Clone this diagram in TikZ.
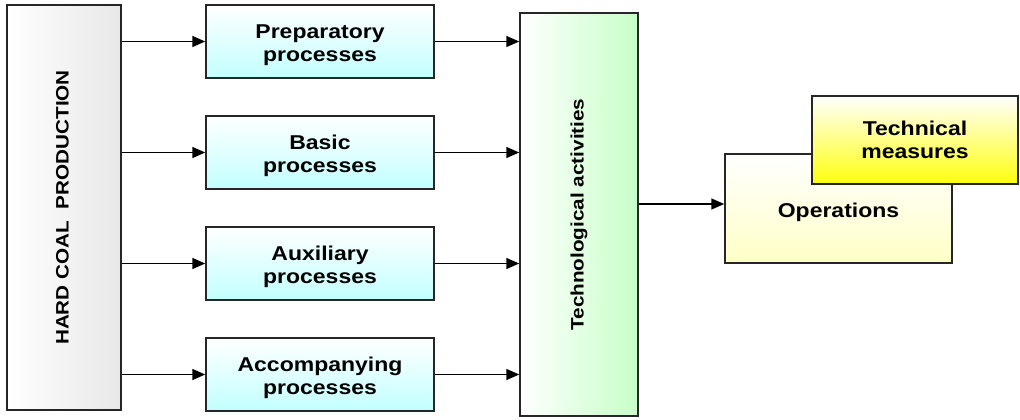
\documentclass[tikz,border=0pt]{standalone}
\usepackage{fontspec}
\setmainfont{Liberation Sans}[FakeStretch=1.15]
\usetikzlibrary{arrows.meta}
\newcommand{\dn}{\rule{0pt}{22pt}}
\begin{document}
\begin{tikzpicture}[x=1pt,y=-1pt,
  box/.style={draw=black!85, line width=1.5pt, inner sep=0pt, align=center,
    font=\bfseries\fontsize{20}{23}\selectfont},
  procbox/.style={box, minimum width=228pt, minimum height=73pt, top color=white, bottom color=cyan!24},
  arr/.style={line width=1.6pt, -{Triangle[length=13pt,width=11pt]}},
  rtext/.style={rotate=90, inner sep=0pt, font=\bfseries\fontsize{18}{22}\selectfont}
]
\useasboundingbox (0,0) rectangle (1020,420);
\node[box, minimum width=114pt, minimum height=405pt, left color=white, right color=black!9] (hc) at (64,207.5) {};
\node[rtext] (hct) at ([xshift=-1.5pt]hc.center) {HARD COAL\ \ PRODUCTION};
\node[procbox] (p1) at (320,41.5) {\dn Preparatory\\processes};
\node[procbox] (p2) at (320,152.5) {\dn Basic\\processes};
\node[procbox] (p3) at (320,263.5) {\dn Auxiliary\\processes};
\node[procbox] (p4) at (320,374.5) {\dn Accompanying\\processes};
\node[box, minimum width=118pt, minimum height=403pt, left color=white, right color=green!22] (tech) at (579,214.5) {};
\node[rtext] (techt) at (tech.center) {Technological activities};
\node[box, minimum width=227pt, minimum height=109pt, top color=white, bottom color=yellow!22] (ops) at (838.5,208.5) {\rule{0pt}{23pt}Operations};
\node[box, minimum width=206pt, minimum height=88pt, top color=white, bottom color=yellow!95!white] (tm) at (915,140) {Technical\\measures};
\foreach \p in {p1,p2,p3,p4}{
  \draw[arr] (hc.east |- \p.west) -- (\p.west);
  \draw[arr] (\p.east) -- (\p.east -| tech.west);
}
\draw[arr] ([yshift=4.5pt]tech.east |- ops.west) -- ([yshift=4.5pt]ops.west);
\end{tikzpicture}
\end{document}
